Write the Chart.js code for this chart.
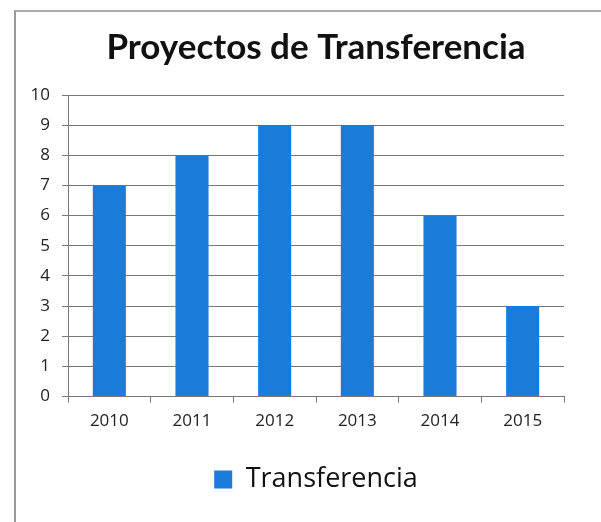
<!DOCTYPE html>
<html>
<head>
<meta charset="utf-8">
<script src="https://cdn.jsdelivr.net/npm/chart.js@4.4.0/dist/chart.umd.min.js"></script>
<style>
  body { margin: 0; background: #fff; }
  #frame {
    position: absolute; left: 14px; top: 10px; width: 600px; height: 520px;
    border-left: 2px solid #999; border-top: 2px solid #aaa;
  }
  #wheel { position: absolute; left: 0; top: 0; }
</style>
</head>
<body>
<div id="frame"></div>
<canvas id="wheel" width="601" height="522"></canvas>
<script>
var years = ["2010", "2011", "2012", "2013", "2014", "2015"];
var proyectos = [7, 8, 9, 9, 6, 3];
var seriesName = "Transferencia";
var barColor = "#1a7bd9";

var ctx = document.getElementById("wheel");
let myChart = new Chart(ctx, {
  type: "bar",
  data: {
    labels: years,
    datasets: [
      {
        label: seriesName,
        data: proyectos,
        backgroundColor: barColor,
        barPercentage: 0.4,
        categoryPercentage: 1,
      },
    ],
  },
  options: {
    responsive: false,
    animation: false,
    layout: { padding: { left: 20, right: 37, top: 1, bottom: 19 } },
    plugins: {
      tooltip: false,
      title: {
        display: true,
        fullSize: false,
        text: "Proyectos de Transferencia",
        color: "#111",
        font: { family: "Lato", size: 35, weight: "bold" },
        padding: { top: 26, bottom: 26 },
      },
      legend: {
        display: true,
        fullSize: false,
        position: "bottom",
        labels: {
          color: "#111",
          boxWidth: 18,
          boxHeight: 18,
          padding: 27,
          font: { family: "'Open Sans'", size: 27 },
        },
      },
    },
    scales: {
      x: {
        grid: { display: true, drawOnChartArea: false, drawTicks: true, tickLength: 6, color: "#777", offset: true },
        border: { color: "#777" },
        ticks: { color: "#222", padding: 8, font: { family: "'Open Sans'", size: 17 } },
      },
      y: {
        min: 0,
        max: 10,
        ticks: { stepSize: 1, color: "#222", padding: 12, font: { family: "'Open Sans'", size: 17 } },
        grid: { color: "#777", tickLength: 6 },
        border: { color: "#777" },
        afterFit: function (scale) { scale.width = 48; },
      },
    },
  },
});
</script>
</body>
</html>
